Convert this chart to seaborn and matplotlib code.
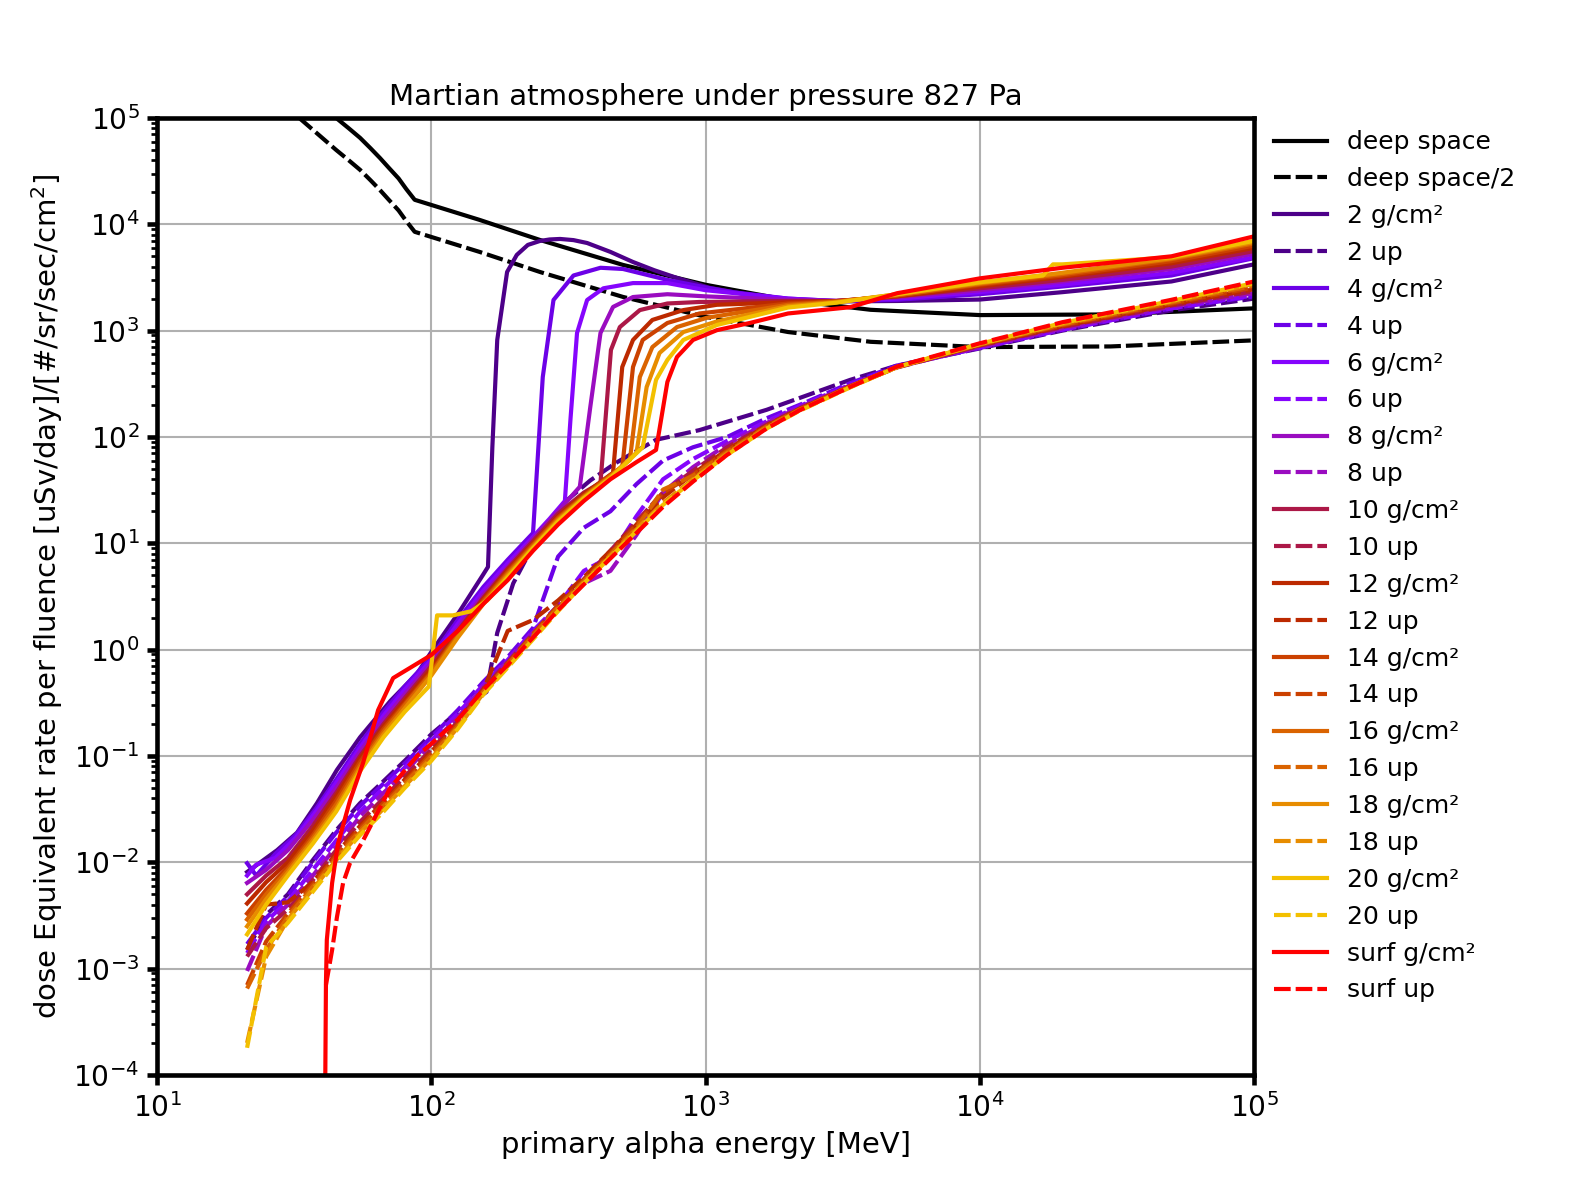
import matplotlib
matplotlib.use("Agg")
import matplotlib.pyplot as plt
import matplotlib.ticker as mticker
import seaborn as sns

# deep space reference
ds_energy = [33, 45, 50, 55, 60, 65, 70, 76, 81, 87, 150, 250, 500, 1000, 2000, 4000, 10000,
             30000, 100000]
ds_dose = [2.0e5, 1.0e5, 8.0e4, 6.5e4, 5.2e4, 4.2e4, 3.4e4, 2.7e4, 2.15e4, 1.7e4, 1.1e4, 7.1e3,
           4.15e3, 2.7e3, 1.94e3, 1.57e3, 1.4e3, 1.42e3, 1.62e3]
ds_half_dose = [d / 2 for d in ds_dose]

# shielded (solid) curves
e_2 = [21.3, 27.4, 32.4, 38.3, 45.3, 55, 71, 89, 100, 127, 154, 161, 167, 174, 189, 205, 225, 249,
       270, 295, 330, 370, 450, 544, 650, 787, 1038, 1400, 1918, 3000, 5000, 10000, 20000, 50000,
       100000]
d_2 = [8.1e-3, 0.013, 0.019, 0.036, 0.074, 0.15, 0.33, 0.6, 0.95, 2.3, 5.0, 6.0, 80, 817, 3.56e3,
       5.15e3, 6.4e3, 6.97e3, 7.2e3, 7.28e3, 7.1e3, 6.67e3, 5.5e3, 4.42e3, 3.7e3, 3.13e3, 2.52e3,
       2.2e3, 1.99e3, 1.88e3, 1.9e3, 1.96e3, 2.3e3, 2.9e3, 4.2e3]
e_4 = [21.3, 23, 27, 32, 38, 45, 55, 67, 80, 100, 125, 155, 190, 235, 255, 279, 330, 414, 500,
       726, 1000, 1260, 2000, 3000, 5000, 10000, 20000, 50000, 100000]
d_4 = [9.8e-3, 7.5e-3, 0.012, 0.018, 0.032, 0.06, 0.13, 0.26, 0.45, 0.85, 1.9, 3.9, 7.0, 12.5,
       366, 1.94e3, 3.3e3, 3.9e3, 3.8e3, 3.0e3, 2.55e3, 2.3e3, 2.0e3, 1.9e3, 1.95e3, 2.2e3,
       2.6e3, 3.3e3, 4.8e3]
e_6 = [21.3, 23, 27, 32, 38, 45, 55, 67, 80, 100, 125, 155, 190, 235, 270, 307, 322, 340, 370,
       424, 544, 726, 1000, 2000, 3000, 5000, 10000, 20000, 50000, 100000]
d_6 = [7.5e-3, 9.5e-3, 0.011, 0.017, 0.03, 0.056, 0.12, 0.24, 0.42, 0.8, 1.75, 3.6, 6.5, 11.5,
       17, 25, 150, 950, 1.94e3, 2.5e3, 2.8e3, 2.8e3, 2.4e3, 2.0e3, 1.9e3, 2.0e3, 2.3e3, 2.7e3,
       3.5e3, 4.9e3]
e_8 = [21.3, 25, 30, 37, 45, 55, 67, 80, 100, 125, 155, 190, 235, 290, 348, 380, 414, 460, 544,
       726, 1000, 2000, 3000, 5000, 10000, 20000, 50000, 100000]
d_8 = [6.4e-3, 8.5e-3, 0.013, 0.025, 0.05, 0.11, 0.22, 0.38, 0.75, 1.6, 3.3, 6.0, 11, 20, 34, 191,
       950, 1.67e3, 2.07e3, 2.2e3, 2.1e3, 1.95e3, 1.9e3, 2.05e3, 2.4e3, 2.9e3, 3.8e3, 5.3e3]
e_10 = [21.3, 25, 30, 37, 45, 55, 67, 80, 100, 125, 155, 190, 235, 290, 360, 414, 452, 487, 576,
        726, 950, 2000, 3000, 5000, 10000, 20000, 50000, 100000]
d_10 = [5.0e-3, 7.5e-3, 0.011, 0.022, 0.045, 0.1, 0.2, 0.35, 0.7, 1.5, 3.1, 5.8, 10.5, 19, 30, 37,
        658, 1.08e3, 1.56e3, 1.8e3, 1.86e3, 1.9e3, 1.9e3, 2.1e3, 2.5e3, 3.0e3, 4.0e3, 5.6e3]
e_12 = [21.3, 25, 30, 37, 45, 55, 67, 80, 100, 125, 155, 190, 235, 290, 360, 460, 497, 544, 640,
        830, 1100, 2000, 3000, 5000, 10000, 20000, 50000, 100000]
d_12 = [4.1e-3, 6.5e-3, 0.01, 0.02, 0.042, 0.095, 0.19, 0.33, 0.66, 1.45, 3.0, 5.6, 10, 18, 29,
        46, 455, 817, 1.26e3, 1.56e3, 1.75e3, 1.85e3, 1.9e3, 2.1e3, 2.6e3, 3.2e3, 4.3e3, 6.0e3]
e_14 = [21.3, 25, 30, 37, 45, 55, 67, 80, 100, 125, 155, 190, 235, 290, 360, 450, 497, 544, 590,
        726, 950, 2000, 3000, 5000, 10000, 20000, 50000, 100000]
d_14 = [3.3e-3, 5.5e-3, 9e-3, 0.018, 0.038, 0.088, 0.18, 0.31, 0.62, 1.4, 2.9, 5.4, 9.8, 17.5,
        28, 44, 52, 455, 817, 1.18e3, 1.45e3, 1.8e3, 1.88e3, 2.15e3, 2.7e3, 3.3e3, 4.5e3, 6.3e3]
e_16 = [21.3, 25, 30, 37, 45, 55, 67, 80, 100, 125, 155, 190, 235, 290, 360, 450, 530, 576, 640,
        787, 1010, 2000, 3000, 5000, 10000, 20000, 50000, 100000]
d_16 = [2.9e-3, 5e-3, 8.5e-3, 0.017, 0.035, 0.082, 0.17, 0.3, 0.6, 1.35, 2.8, 5.2, 9.5, 17, 27.5,
        43, 61, 366, 700, 1.08e3, 1.32e3, 1.75e3, 1.87e3, 2.15e3, 2.75e3, 3.4e3, 4.7e3, 6.6e3]
e_18 = [21.3, 25, 30, 37, 45, 55, 67, 80, 100, 125, 155, 190, 235, 290, 360, 450, 560, 610, 680,
        830, 1100, 2000, 3000, 5000, 10000, 20000, 50000, 100000]
d_18 = [2.5e-3, 4.5e-3, 8e-3, 0.016, 0.032, 0.077, 0.16, 0.28, 0.57, 1.3, 2.7, 5.0, 9.2, 16.5,
        27, 42, 71, 295, 617, 970, 1.22e3, 1.7e3, 1.85e3, 2.2e3, 2.8e3, 3.5e3, 4.8e3, 6.8e3]
e_20 = [21.3, 25, 30, 37, 45, 55, 67, 80, 98, 105, 120, 140, 160, 190, 235, 290, 360, 450, 590,
        660, 726, 830, 1100, 2000, 3000, 5000, 10000, 17000, 18500, 20000, 50000, 100000]
d_20 = [2.1e-3, 4e-3, 7.5e-3, 0.015, 0.03, 0.072, 0.15, 0.26, 0.45, 2.1, 2.1, 2.3, 2.9, 4.8, 9,
        16, 26.5, 41, 80, 344, 530, 817, 1.13e3, 1.65e3, 1.83e3, 2.2e3, 2.85e3, 3.3e3, 4.2e3,
        4.2e3, 4.9e3, 7.0e3]
e_surf = [41.0, 41.3, 41.6, 43.5, 45.7, 50.6, 56.4, 64, 72.6, 100, 125, 155, 190, 235, 290, 360,
          450, 560, 660, 726, 787, 900, 1100, 1450, 2000, 3365, 5000, 10000, 20000, 50000, 100000]
d_surf = [5e-5, 7.3e-4, 1.86e-3, 6.4e-3, 0.015, 0.0385, 0.086, 0.27, 0.54, 0.89, 1.5, 2.7, 4.5,
          8.5, 15, 25, 40, 58, 75.5, 329, 565, 817, 1.01e3, 1.18e3, 1.45e3, 1.66e3, 2.25e3,
          3.1e3, 3.9e3, 5.0e3, 7.7e3]

# "up" (dashed) curves
e_up = [21.3, 25, 30, 37, 45, 55, 67, 80, 100, 125, 155, 190, 235, 290, 360, 450, 560, 700, 900,
        1200, 1670, 2200, 3365, 5000, 10000, 20000, 50000, 100000]
e_2up = [21.3, 25, 30, 37, 45, 55, 67, 80, 100, 125, 150, 159, 174, 199, 249, 313, 380, 471, 660,
         950, 1670, 3365, 5000, 10000, 20000, 50000, 100000]
d_2up = [1.5e-3, 3.2e-3, 5e-3, 0.0105, 0.02, 0.036, 0.058, 0.09, 0.16, 0.26, 0.36, 0.4, 1.44, 4.2,
         12.5, 25.5, 39, 57, 94, 116, 180, 344, 470, 680, 1.0e3, 1.55e3, 2.0e3]
d_4up = [1.7e-3, 3.0e-3, 4.8e-3, 0.01, 0.019, 0.034, 0.055, 0.085, 0.15, 0.27, 0.5, 0.85, 1.6,
         7.5, 14, 20, 36, 60, 80, 100, 150, 200, 320, 470, 690, 1.02e3, 1.62e3, 2.1e3]
d_6up = [1.4e-3, 2.8e-3, 4.3e-3, 8.5e-3, 0.016, 0.03, 0.05, 0.078, 0.14, 0.25, 0.47, 0.8, 1.5,
         2.6, 5.5, 7.5, 18, 40, 62, 92, 140, 195, 310, 460, 690, 1.02e3, 1.62e3, 2.15e3]
d_8up = [9.5e-4, 2.5e-3, 4e-3, 7.5e-3, 0.014, 0.027, 0.045, 0.07, 0.13, 0.23, 0.45, 0.78, 1.45,
         2.5, 4.2, 5.5, 12, 30, 52, 85, 135, 190, 305, 455, 700, 1.05e3, 1.68e3, 2.25e3]
d_10up = [1.3e-3, 2.4e-3, 3.6e-3, 6.8e-3, 0.013, 0.024, 0.04, 0.064, 0.115, 0.21, 0.43, 0.76,
          1.4, 2.6, 4.6, 8.5, 16, 30, 48, 80, 130, 185, 300, 450, 720, 1.08e3, 1.72e3, 2.35e3]
d_12up = [1.5e-3, 4e-3, 4.2e-3, 6.5e-3, 0.012, 0.022, 0.037, 0.06, 0.11, 0.2, 0.42, 1.5, 1.9,
          2.9, 4.8, 8.5, 15, 27, 45, 76, 128, 183, 300, 455, 730, 1.1e3, 1.76e3, 2.45e3]
d_14up = [7e-4, 1.8e-3, 3.3e-3, 6.2e-3, 0.0115, 0.021, 0.036, 0.057, 0.105, 0.2, 0.41, 0.74, 1.4,
          2.6, 4.5, 8, 15, 30, 44, 74, 126, 182, 298, 455, 735, 1.12e3, 1.8e3, 2.55e3]
d_16up = [6.5e-4, 1.5e-3, 3.1e-3, 5.9e-3, 0.011, 0.02, 0.034, 0.055, 0.1, 0.19, 0.4, 0.72, 1.35,
          2.5, 4.4, 7.8, 14, 32, 43, 72, 125, 180, 297, 455, 740, 1.14e3, 1.84e3, 2.65e3]
d_18up = [2e-4, 1.3e-3, 2.9e-3, 5.6e-3, 0.0105, 0.019, 0.032, 0.052, 0.095, 0.185, 0.39, 0.7,
          1.3, 2.4, 4.3, 7.6, 13.5, 24, 40, 70, 122, 178, 295, 455, 745, 1.16e3, 1.88e3, 2.75e3]
d_20up = [1.8e-4, 1.6e-3, 2.7e-3, 5.3e-3, 0.01, 0.018, 0.03, 0.05, 0.09, 0.18, 0.38, 0.68, 1.25,
          2.3, 4.2, 7.4, 13, 23, 39, 68, 120, 176, 292, 455, 750, 1.18e3, 1.9e3, 2.8e3]
e_surfup = [41.3, 43.5, 45.3, 47.7, 50.6, 56.4, 70.8, 88.8, 100, 125, 155, 190, 235, 290, 360,
            450, 560, 700, 900, 1200, 1670, 2200, 3365, 5000, 10000, 20000, 50000, 100000]
d_surfup = [7e-4, 1.5e-3, 3.06e-3, 6.4e-3, 9.9e-3, 0.016, 0.05, 0.1, 0.13, 0.22, 0.42, 0.72, 1.3,
            2.35, 4.1, 7.2, 12.5, 22, 38, 68, 120, 178, 295, 460, 760, 1.2e3, 1.95e3, 2.9e3]

depths = ["2", "4", "6", "8", "10", "12", "14", "16", "18", "20", "surf"]
solid_series = [(e_2, d_2), (e_4, d_4), (e_6, d_6), (e_8, d_8), (e_10, d_10), (e_12, d_12),
                (e_14, d_14), (e_16, d_16), (e_18, d_18), (e_20, d_20), (e_surf, d_surf)]
up_series = [(e_2up, d_2up), (e_up, d_4up), (e_up, d_6up), (e_up, d_8up), (e_up, d_10up),
             (e_up, d_12up), (e_up, d_14up), (e_up, d_16up), (e_up, d_18up), (e_up, d_20up),
             (e_surfup, d_surfup)]

colors = [plt.cm.gnuplot((i + 1) / 11) for i in range(10)] + ["red"]
LW = 2.0
DASH = (0, (4.0, 1.2))

fig = plt.figure(figsize=(10.5, 8), dpi=150)
ax = fig.add_axes([0.0997, 0.1042, 0.6965, 0.7975])
ax.set_xscale("log")
ax.set_yscale("log")

sns.lineplot(x=ds_energy, y=ds_dose, ax=ax, color="black", lw=LW, label="deep space",
             estimator=None, sort=False)
sns.lineplot(x=ds_energy, y=ds_half_dose, ax=ax, color="black", lw=LW, linestyle=DASH,
             label="deep space/2", estimator=None, sort=False)
for depth, c, (es, ds), (eu, du) in zip(depths, colors, solid_series, up_series):
    sns.lineplot(x=es, y=ds, ax=ax, color=c, lw=LW, label=f"{depth} g/cm²",
                 estimator=None, sort=False)
    sns.lineplot(x=eu, y=du, ax=ax, color=c, lw=LW, linestyle=DASH, label=f"{depth} up",
                 estimator=None, sort=False)

ax.set_xlim(10, 1e5)
ax.set_ylim(1e-4, 1e5)
ax.xaxis.set_minor_locator(mticker.NullLocator())
ax.yaxis.set_major_locator(mticker.LogLocator(base=10, numticks=20))
ax.yaxis.set_minor_locator(mticker.LogLocator(base=10, subs=range(2, 10), numticks=20))
ax.yaxis.set_minor_formatter(mticker.NullFormatter())
ax.grid(True, which="major", color="#b0b0b0", lw=1.0)
ax.set_axisbelow(True)
for s in ax.spines.values():
    s.set_linewidth(2.2)
ax.tick_params(which="major", length=5, width=2.2, labelsize=13.5)
ax.tick_params(which="minor", length=3, width=1.3)

ax.set_title("Martian atmosphere under pressure 827 Pa", fontsize=14)
ax.set_xlabel("primary alpha energy [MeV]", fontsize=14)
ax.set_ylabel(r"dose Equivalent rate per fluence [uSv/day]/[#/sr/sec/cm$^2$]", fontsize=14)

ax.legend(loc="upper left", bbox_to_anchor=(1.0, 1.008), frameon=False, fontsize=12,
          handlelength=2.1, borderaxespad=0.4, labelspacing=0.515)

fig.savefig("out.png", dpi=150)
